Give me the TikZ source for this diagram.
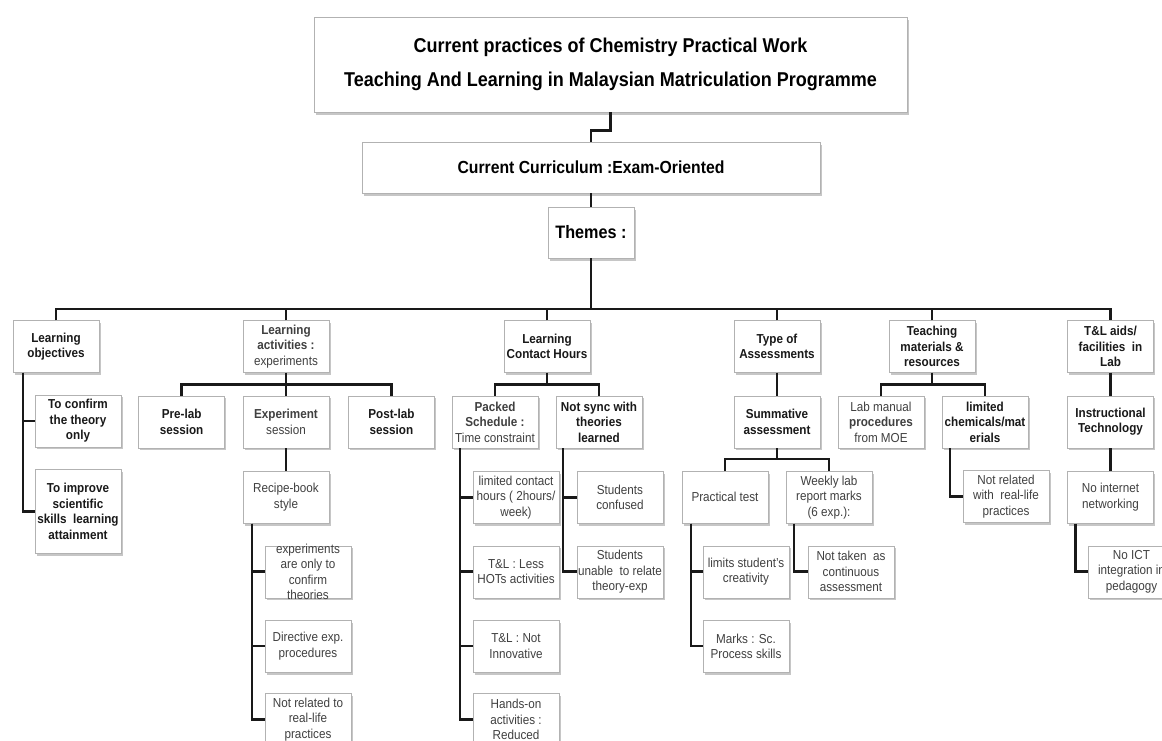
\documentclass[tikz,border=0pt]{standalone}
\usepackage{fontspec}
\setmainfont{Liberation Sans}[FakeStretch=0.9]
\usetikzlibrary{positioning, shadows}

\begin{document}
\begin{tikzpicture}[
      x=1pt, y=-1pt,
      box/.style={draw=black!30, fill=white, align=center, inner xsep=1pt,
      inner ysep=3pt, minimum width=86pt, minimum height=52pt, text=black!75,
      font=\fontsize{13}{15.5}\selectfont,
      drop shadow={shadow xshift=1.5pt, shadow yshift=-2.5pt, opacity=0.45}},
      head/.style={box, text=black!90, font=\bfseries\fontsize{13}{15.5}\selectfont},
      lbl/.style={align=center, inner sep=0pt, text=black!75,
      font=\fontsize{13}{15.3}\selectfont},
      link/.style={line width=2.6pt, black!90}
    ]
    \useasboundingbox (0,0) rectangle (1162,740);
    \clip (0,0) rectangle (1162,740);

    \node[box, minimum width=593pt, minimum height=95pt, text=black,
    font=\bfseries\fontsize{20}{34}\selectfont] (title) at (610.5,64.5)
    {Current practices of Chemistry Practical Work\\Teaching And Learning
    in Malaysian Matriculation Programme};
    \node[box, minimum width=458pt, minimum height=51pt, text=black,
    font=\bfseries\fontsize{17.5}{20}\selectfont] (curr) at (591,167.5)
    {Current Curriculum :Exam-Oriented};
    \node[box, minimum height=51pt, text=black,
    font=\bfseries\fontsize{18}{20}\selectfont] (themes) at (591,232.5)
    {Themes :};
    \coordinate (bus) at (591,309);

    \node[head] (obj) at (56,346.5) {Learning\\objectives};
    \node[box] (act) at (286,346.5) {\textbf{Learning}\\\textbf{activities :}\\experiments};
    \node[head] (hrs) at (547,346.5) {Learning\\Contact Hours};
    \node[head] (asm) at (777,346.5) {Type of\\Assessments};
    \node[head] (mat) at (932,346.5) {Teaching\\materials \&\\resources};
    \node[head] (aids) at (1110.5,346.5) {T\&L aids/\\facilities\ \ in\\Lab};

    \node[head, below right=22pt and 22pt of obj.south west] (objconf)
    {To confirm\\the theory\\only};
    \node[head, below=22pt of objconf, minimum height=84pt] (objimpr)
    {To improve\\scientific\\skills\ \ learning\\attainment};

    \node[box, below=23pt of act] (exp) {\textbf{Experiment}\\session};
    \node[head, left=18pt of exp] (pre) {Pre-lab\\session};
    \node[head, right=19pt of exp] (post) {Post-lab\\session};
    \node[box, below=23pt of exp] (recipe) {Recipe-book\\style};
    \node[box, below right=22pt and 22pt of recipe.south west,
    label={[lbl]center:{experiments\\are only to\\confirm\\theories}}] (theo) {};
    \node[box, below=22pt of theo] (direct) {Directive exp.\\procedures};
    \node[box, below=21pt of direct] (notrel) {Not related to\\real-life\\practices};

    \node[box, below=23pt of hrs, xshift=-52pt] (pack)
    {\textbf{Packed}\\\textbf{Schedule :}\\Time constraint};
    \node[head, below=23pt of hrs, xshift=52pt] (sync)
    {Not sync with\\theories\\learned};
    \node[box, below right=23pt and 21pt of pack.south west] (limc)
    {limited contact\\hours ( 2hours/\\week)};
    \node[box, below=22pt of limc] (less) {T\&L : Less\\HOTs activities};
    \node[box, below=22pt of less] (innov) {T\&L : Not\\Innovative};
    \node[box, below=21pt of innov] (hands) {Hands-on\\activities :\\Reduced};
    \node[box, below right=23pt and 21pt of sync.south west] (stconf)
    {Students\\confused};
    \node[box, below=22pt of stconf] (unable) {Students\\unable\ \ to relate\\theory-exp};

    \node[head, below=23pt of asm] (summ) {Summative\\assessment};
    \node[box, below=23pt of summ, xshift=-52pt] (prac) {Practical test};
    \node[box, below=23pt of summ, xshift=52pt] (week)
    {Weekly lab\\report marks\\(6 exp.):};
    \node[box, below right=22pt and 21pt of prac.south west] (limits)
    {limits student’s\\creativity};
    \node[box, below=22pt of limits] (marks) {Marks : Sc.\\Process skills};
    \node[box, below right=22pt and 22pt of week.south west] (nottaken)
    {Not taken\ \ as\\continuous\\assessment};

    \node[box, below=23pt of mat, xshift=-51pt] (lab)
    {Lab manual\\\textbf{procedures}\\from MOE};
    \node[head, below=23pt of mat, xshift=53pt] (chem)
    {limited\\chemicals/mat\\erials};
    \node[box, below right=22pt and 21pt of chem.south west] (notrelw)
    {Not related\\with\ \ real-life\\practices};

    \node[head, below=23pt of aids] (inst) {Instructional\\Technology};
    \node[box, below=23pt of inst] (net) {No internet\\networking};
    \node[box, below right=22pt and 21pt of net.south west] (ict)
    {No ICT\\integration in\\pedagogy};

    \draw[link] (title.south) -- ++(0,18) -| (curr.north);
    \draw[link] (curr) -- (themes);
    \draw[link] (themes) -- (bus);
    \draw[link] (obj.north) |- (bus) -| (aids.north);
    \draw[link] (act.north) -- (act.north |- bus);
    \draw[link] (hrs.north) -- (hrs.north |- bus);
    \draw[link] (asm.north) -- (asm.north |- bus);
    \draw[link] (mat.north) -- (mat.north |- bus);

    \draw[link] ([xshift=10pt]obj.south west) |- (objconf.west);
    \draw[link] ([xshift=10pt]obj.south west) |- (objimpr.west);

    \draw[link] (act) -- (exp);
    \draw[link] (pre.north) -- ++(0,-11) -| (post.north);
    \draw[link] (exp) -- (recipe);
    \draw[link] ([xshift=9pt]recipe.south west) |- (theo.west);
    \draw[link] ([xshift=9pt]recipe.south west) |- (direct.west);
    \draw[link] ([xshift=9pt]recipe.south west) |- (notrel.west);

    \draw[link] (hrs.south) -- ++(0,12) coordinate (hb);
    \draw[link] (pack.north) |- (hb) -| (sync.north);
    \draw[link] ([xshift=8pt]pack.south west) |- (limc.west);
    \draw[link] ([xshift=8pt]pack.south west) |- (less.west);
    \draw[link] ([xshift=8pt]pack.south west) |- (innov.west);
    \draw[link] ([xshift=8pt]pack.south west) |- (hands.west);
    \draw[link] ([xshift=7pt]sync.south west) |- (stconf.west);
    \draw[link] ([xshift=7pt]sync.south west) |- (unable.west);

    \draw[link] (asm) -- (summ);
    \draw[link] (summ.south) -- ++(0,11) coordinate (sb);
    \draw[link] (prac.north) |- (sb) -| (week.north);
    \draw[link] ([xshift=9pt]prac.south west) |- (limits.west);
    \draw[link] ([xshift=9pt]prac.south west) |- (marks.west);
    \draw[link] ([xshift=8pt]week.south west) |- (nottaken.west);

    \draw[link] (mat.south) -- ++(0,12) coordinate (mb);
    \draw[link] (lab.north) |- (mb) -| (chem.north);
    \draw[link] ([xshift=8pt]chem.south west) |- (notrelw.west);

    \draw[link] (aids) -- (inst);
    \draw[link] (inst) -- (net);
    \draw[link] ([xshift=8pt]net.south west) |- (ict.west);
  \end{tikzpicture}
\end{document}
